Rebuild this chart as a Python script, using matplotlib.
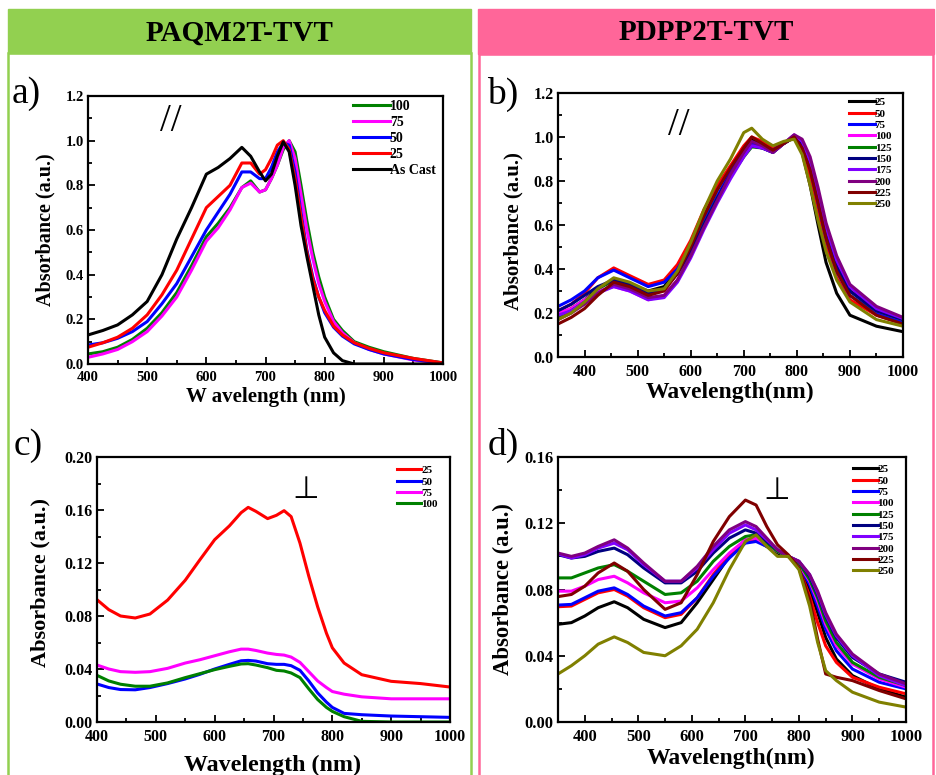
#!/usr/bin/env python3
"""uv-vis absorbance of PAQM2T-TVT / PDPP2T-TVT films, parallel and perpendicular polarisation."""

import matplotlib

matplotlib.use("Agg")
import matplotlib.pyplot as plt
from matplotlib.patches import Rectangle
from matplotlib.ticker import FormatStrFormatter, MultipleLocator

W, H = 936, 775

# ---- a) PAQM2T-TVT, parallel ----
A_WL = [400, 425, 450, 475, 500, 525, 550, 575, 600, 620, 640, 660, 675, 690, 700, 710,
        720, 730, 740, 750, 760, 770, 780, 790, 800, 815, 830, 850, 875, 900, 950, 1000]
A_LABELS = ["100", "75", "50", "25", "As Cast"]
A_COLORS = ["#008000", "#FF00FF", "#0000FF", "#FF0000", "#000000"]
A_100 = [0.045, 0.055, 0.075, 0.11, 0.16, 0.23, 0.32, 0.44, 0.57, 0.63, 0.70, 0.79, 0.82, 0.77, 0.78, 0.83,
         0.89, 0.96, 1.0, 0.95, 0.80, 0.64, 0.50, 0.39, 0.30, 0.20, 0.15, 0.10, 0.075, 0.055, 0.025, 0.005]
A_75 = [0.03, 0.045, 0.065, 0.10, 0.145, 0.215, 0.30, 0.42, 0.55, 0.61, 0.69, 0.79, 0.81, 0.77, 0.78, 0.83,
        0.89, 0.97, 1.0, 0.92, 0.76, 0.60, 0.47, 0.36, 0.28, 0.19, 0.14, 0.095, 0.065, 0.045, 0.018, 0.003]
A_50 = [0.085, 0.095, 0.115, 0.145, 0.19, 0.27, 0.36, 0.48, 0.60, 0.68, 0.76, 0.86, 0.86, 0.83, 0.83, 0.88,
        0.95, 0.99, 0.98, 0.86, 0.68, 0.51, 0.39, 0.30, 0.23, 0.165, 0.125, 0.09, 0.065, 0.045, 0.02, 0.004]
A_25 = [0.075, 0.095, 0.12, 0.16, 0.22, 0.31, 0.42, 0.56, 0.70, 0.75, 0.80, 0.90, 0.90, 0.85, 0.87, 0.92,
        0.98, 1.0, 0.96, 0.83, 0.66, 0.50, 0.38, 0.30, 0.24, 0.17, 0.13, 0.095, 0.07, 0.05, 0.025, 0.005]
A_CAST = [0.13, 0.15, 0.175, 0.22, 0.28, 0.40, 0.56, 0.70, 0.85, 0.88, 0.92, 0.97, 0.93, 0.86, 0.82, 0.85,
          0.93, 0.995, 0.95, 0.80, 0.62, 0.48, 0.35, 0.22, 0.12, 0.05, 0.015, 0.0, 0.0, 0.0, 0.0, 0.0]

# ---- b) PDPP2T-TVT, parallel ----
B_WL = [350, 375, 400, 425, 455, 485, 520, 550, 575, 600, 625, 650, 675, 700, 715, 735,
        755, 775, 795, 810, 825, 840, 855, 875, 900, 950, 1000]
TEMPS = ["25", "50", "75", "100", "125", "150", "175", "200", "225", "250"]
ORIGIN_COLORS = ["#000000", "#FF0000", "#0000FF", "#FF00FF", "#008000",
                 "#000080", "#8000FF", "#800080", "#800000", "#808000"]
B_25 = [0.19, 0.22, 0.26, 0.31, 0.35, 0.33, 0.30, 0.32, 0.40, 0.51, 0.64, 0.76, 0.86, 0.95, 0.99, 0.97,
        0.95, 0.97, 1.0, 0.93, 0.78, 0.60, 0.43, 0.29, 0.19, 0.14, 0.115]
B_50 = [0.21, 0.24, 0.29, 0.36, 0.405, 0.37, 0.33, 0.35, 0.42, 0.53, 0.67, 0.78, 0.87, 0.96, 1.0, 0.98,
        0.95, 0.97, 1.0, 0.94, 0.82, 0.66, 0.50, 0.36, 0.26, 0.19, 0.15]
B_75 = [0.23, 0.26, 0.30, 0.36, 0.395, 0.36, 0.32, 0.34, 0.40, 0.50, 0.62, 0.73, 0.84, 0.93, 0.97, 0.96,
        0.94, 0.97, 1.0, 0.96, 0.86, 0.70, 0.54, 0.39, 0.28, 0.20, 0.16]
B_100 = [0.20, 0.22, 0.26, 0.30, 0.32, 0.30, 0.26, 0.28, 0.35, 0.46, 0.59, 0.71, 0.82, 0.92, 0.96, 0.95,
         0.93, 0.97, 1.005, 0.97, 0.88, 0.73, 0.57, 0.42, 0.31, 0.21, 0.17]
B_125 = [0.18, 0.21, 0.25, 0.31, 0.35, 0.32, 0.29, 0.31, 0.38, 0.48, 0.60, 0.72, 0.82, 0.91, 0.955, 0.95,
         0.93, 0.97, 1.0, 0.96, 0.87, 0.72, 0.56, 0.41, 0.30, 0.21, 0.17]
B_150 = [0.21, 0.24, 0.28, 0.32, 0.35, 0.33, 0.29, 0.31, 0.38, 0.48, 0.60, 0.72, 0.83, 0.92, 0.96, 0.95,
         0.93, 0.97, 1.0, 0.96, 0.87, 0.72, 0.56, 0.41, 0.30, 0.21, 0.17]
B_175 = [0.19, 0.21, 0.25, 0.29, 0.32, 0.30, 0.26, 0.27, 0.34, 0.45, 0.58, 0.70, 0.81, 0.91, 0.96, 0.95,
         0.93, 0.97, 1.01, 0.98, 0.89, 0.75, 0.59, 0.44, 0.32, 0.22, 0.175]
B_200 = [0.17, 0.20, 0.24, 0.29, 0.33, 0.31, 0.27, 0.28, 0.35, 0.46, 0.59, 0.71, 0.83, 0.93, 0.98, 0.96,
         0.93, 0.97, 1.01, 0.99, 0.91, 0.77, 0.61, 0.46, 0.33, 0.23, 0.18]
B_225 = [0.15, 0.18, 0.22, 0.28, 0.34, 0.32, 0.28, 0.30, 0.38, 0.50, 0.64, 0.76, 0.86, 0.95, 1.0, 0.97,
         0.94, 0.97, 1.0, 0.95, 0.85, 0.70, 0.54, 0.39, 0.28, 0.19, 0.15]
B_250 = [0.17, 0.20, 0.25, 0.31, 0.36, 0.34, 0.30, 0.31, 0.39, 0.52, 0.67, 0.80, 0.90, 1.02, 1.04, 0.99,
         0.96, 0.98, 0.99, 0.92, 0.78, 0.62, 0.48, 0.35, 0.25, 0.17, 0.14]

# ---- c) PAQM2T-TVT, perpendicular ----
C_WL = [400, 420, 440, 465, 490, 520, 550, 575, 600, 625, 645, 657, 670, 690, 705, 718, 730,
        745, 760, 775, 790, 800, 820, 850, 900, 950, 1000]
C_LABELS = ["25", "50", "75", "100"]
C_COLORS = ["#FF0000", "#0000FF", "#FF00FF", "#008000"]
C_25 = [0.0923, 0.0848, 0.080, 0.0785, 0.0815, 0.092, 0.107, 0.1225, 0.1376, 0.148, 0.158, 0.162, 0.159,
        0.1535, 0.156, 0.1595, 0.155, 0.135, 0.11, 0.087, 0.067, 0.056, 0.0445, 0.0357, 0.0307, 0.029, 0.0264]
C_50 = [0.0287, 0.026, 0.0245, 0.0243, 0.026, 0.029, 0.0325, 0.036, 0.040, 0.0435, 0.0462, 0.0465, 0.046,
        0.044, 0.0435, 0.0435, 0.0425, 0.039, 0.031, 0.022, 0.015, 0.011, 0.0065, 0.0055, 0.0045, 0.004, 0.0035]
C_75 = [0.043, 0.040, 0.038, 0.0375, 0.038, 0.0405, 0.0445, 0.047, 0.050, 0.053, 0.055, 0.055, 0.054,
        0.052, 0.051, 0.0505, 0.049, 0.045, 0.038, 0.031, 0.026, 0.023, 0.021, 0.019, 0.0175, 0.0175, 0.0175]
C_100 = [0.0352, 0.031, 0.0285, 0.027, 0.027, 0.0295, 0.0335, 0.0365, 0.0395, 0.042, 0.0438, 0.044, 0.043,
         0.041, 0.039, 0.0385, 0.037, 0.0335, 0.025, 0.017, 0.011, 0.008, 0.004, 0.0005, 0.0, 0.0, 0.0]

# ---- d) PDPP2T-TVT, perpendicular ----
D_WL = [350, 375, 400, 425, 455, 480, 510, 550, 580, 610, 640, 670, 700, 720, 740, 760, 780,
        800, 820, 835, 850, 870, 900, 950, 1000]
D_25 = [0.059, 0.060, 0.064, 0.069, 0.0726, 0.069, 0.062, 0.057, 0.060, 0.072, 0.086, 0.100, 0.110, 0.110,
        0.106, 0.102, 0.100, 0.094, 0.080, 0.066, 0.051, 0.038, 0.028, 0.020, 0.015]
D_50 = [0.0696, 0.070, 0.074, 0.078, 0.080, 0.076, 0.069, 0.063, 0.065, 0.075, 0.089, 0.101, 0.109, 0.110,
        0.107, 0.103, 0.100, 0.093, 0.076, 0.060, 0.046, 0.036, 0.027, 0.021, 0.017]
D_75 = [0.0706, 0.071, 0.075, 0.079, 0.081, 0.077, 0.070, 0.064, 0.066, 0.075, 0.088, 0.099, 0.108, 0.109,
        0.106, 0.103, 0.100, 0.095, 0.083, 0.070, 0.056, 0.043, 0.032, 0.024, 0.020]
D_100 = [0.079, 0.079, 0.082, 0.086, 0.088, 0.084, 0.078, 0.072, 0.073, 0.081, 0.092, 0.102, 0.110, 0.111,
         0.107, 0.103, 0.100, 0.095, 0.085, 0.073, 0.059, 0.046, 0.035, 0.026, 0.021]
D_125 = [0.087, 0.087, 0.090, 0.093, 0.095, 0.091, 0.085, 0.077, 0.078, 0.085, 0.097, 0.106, 0.112, 0.113,
         0.108, 0.103, 0.100, 0.096, 0.086, 0.075, 0.061, 0.048, 0.036, 0.027, 0.022]
D_150 = [0.101, 0.099, 0.100, 0.103, 0.105, 0.101, 0.093, 0.084, 0.084, 0.091, 0.102, 0.111, 0.116, 0.114,
         0.109, 0.104, 0.100, 0.097, 0.088, 0.077, 0.064, 0.051, 0.039, 0.029, 0.024]
D_175 = [0.1015, 0.099, 0.101, 0.105, 0.108, 0.104, 0.095, 0.085, 0.085, 0.093, 0.104, 0.114, 0.119, 0.116,
         0.110, 0.104, 0.100, 0.097, 0.089, 0.078, 0.065, 0.052, 0.040, 0.028, 0.022]
D_200 = [0.102, 0.100, 0.102, 0.106, 0.110, 0.105, 0.096, 0.085, 0.085, 0.094, 0.106, 0.116, 0.121, 0.118,
         0.111, 0.104, 0.100, 0.097, 0.089, 0.079, 0.066, 0.053, 0.041, 0.029, 0.023]
D_225 = [0.0757, 0.077, 0.082, 0.090, 0.096, 0.091, 0.080, 0.068, 0.072, 0.089, 0.109, 0.124, 0.134, 0.131,
         0.118, 0.107, 0.101, 0.093, 0.074, 0.050, 0.029, 0.027, 0.025, 0.019, 0.014]
D_250 = [0.029, 0.034, 0.040, 0.047, 0.0514, 0.048, 0.042, 0.040, 0.046, 0.056, 0.072, 0.092, 0.109, 0.113,
         0.106, 0.100, 0.100, 0.092, 0.070, 0.048, 0.031, 0.025, 0.018, 0.012, 0.009]

GREEN = "#92D050"
PINK = "#FF6699"
LW = 2.2


def fx(px):
    return px / W


def fy(py):
    return 1 - py / H


def axes_box(fig, x0, y0, x1, y1):
    return fig.add_axes([fx(x0), fy(y1), fx(x1 - x0), (y1 - y0) / H])


def style_axes(ax, xlim, ylim, ystep, yminor, yfmt, tick_fs):
    ax.set_xlim(*xlim)
    ax.set_ylim(*ylim)
    ax.set_xticks(range(400, 1001, 100))
    ax.xaxis.set_minor_locator(MultipleLocator(50))
    ax.yaxis.set_major_locator(MultipleLocator(ystep))
    ax.yaxis.set_minor_locator(MultipleLocator(yminor))
    ax.yaxis.set_major_formatter(FormatStrFormatter(yfmt))
    ax.tick_params(which="both", direction="in", top=False, right=False, width=1.3)
    ax.tick_params(which="major", length=5, labelsize=tick_fs)
    ax.tick_params(axis="x", which="major", pad=5)
    ax.tick_params(axis="y", which="major", pad=3)
    ax.tick_params(which="minor", length=3)
    for s in ax.spines.values():
        s.set_linewidth(1.6)


def labels(ax, fs_y, fs_x, xlabel, ycoord, xcoord):
    ax.set_ylabel("Absorbance (a.u.)", fontsize=fs_y, va="center")
    ax.set_xlabel(xlabel, fontsize=fs_x, va="center")
    ax.yaxis.set_label_coords(*ycoord)
    ax.xaxis.set_label_coords(*xcoord)


def legend(ax, x0, y0, fs, hlen, spacing):
    ax.legend(loc="upper left", bbox_to_anchor=(x0, y0), frameon=False, fontsize=fs,
              handlelength=hlen, handletextpad=0.0, labelspacing=spacing,
              borderpad=0, borderaxespad=0)


def mark(ax, x, y, s, fs, family=None):
    # x, y in axes fraction
    ax.text(x, y, s, ha="center", va="center", fontsize=fs, fontweight="normal",
            family=family, transform=ax.transAxes)


def main() -> None:
    plt.rcParams.update({
        "font.family": ["Liberation Serif", "DejaVu Serif"],
        "font.weight": "bold",
        "axes.labelweight": "bold",
    })
    fig = plt.figure(figsize=(W / 100, H / 100), dpi=100)

    # header bands and frames
    fig.add_artist(Rectangle((fx(8), fy(H + 5)), fx(463), (H + 5 - 53) / H, transform=fig.transFigure,
                             fill=False, edgecolor=GREEN, lw=1.8))
    fig.add_artist(Rectangle((fx(8), fy(53)), fx(463), 44 / H, transform=fig.transFigure,
                             facecolor=GREEN, edgecolor=GREEN, lw=1))
    fig.add_artist(Rectangle((fx(479), fy(H + 5)), fx(454), (H + 5 - 54) / H, transform=fig.transFigure,
                             fill=False, edgecolor=PINK, lw=1.8))
    fig.add_artist(Rectangle((fx(478), fy(54)), fx(456), 45 / H, transform=fig.transFigure,
                             facecolor=PINK, edgecolor=PINK, lw=1))
    fig.text(fx(240), fy(33), "PAQM2T-TVT", ha="center", va="center", fontsize=21, fontweight="bold")
    fig.text(fx(706), fy(33), "PDPP2T-TVT", ha="center", va="center", fontsize=21, fontweight="bold")

    for letter, x, y in [("a)", 12, 94), ("b)", 487, 94), ("c)", 14, 446), ("d)", 488, 445)]:
        fig.text(fx(x), fy(y), letter, ha="left", va="center", fontsize=27, fontweight="normal")

    # a
    ax = axes_box(fig, 88, 96, 443, 364)
    for lab, col, ys in zip(A_LABELS, A_COLORS, [A_100, A_75, A_50, A_25, A_CAST]):
        ax.plot(A_WL, ys, color=col, lw=LW, label=lab)
    style_axes(ax, (400, 1000), (0, 1.2), 0.2, 0.1, "%.1f", 10.5)
    labels(ax, 14.5, 15, "W avelength (nm)", (-0.121, 0.5), (0.501, -0.123))
    legend(ax, 0.746, 0.985, 10, 2.66, 0.22)
    mark(ax, 0.234, 0.905, "//", 28)

    # b
    ax = axes_box(fig, 558, 93, 903, 357)
    for lab, col, ys in zip(TEMPS, ORIGIN_COLORS, [B_25, B_50, B_75, B_100, B_125, B_150,
                                                   B_175, B_200, B_225, B_250]):
        ax.plot(B_WL, ys, color=col, lw=LW, label=lab)
    style_axes(ax, (350, 1000), (0, 1.2), 0.2, 0.1, "%.1f", 11.5)
    labels(ax, 15, 17, "Wavelength(nm)", (-0.130, 0.477), (0.499, -0.133))
    legend(ax, 0.843, 0.983, 8, 2.34, 0.14)
    mark(ax, 0.351, 0.878, "//", 28)

    # c
    ax = axes_box(fig, 97, 457, 450, 722)
    for lab, col, ys in zip(C_LABELS, C_COLORS, [C_25, C_50, C_75, C_100]):
        ax.plot(C_WL, ys, color=col, lw=LW, label=lab)
    style_axes(ax, (400, 1000), (0, 0.2), 0.04, 0.02, "%.2f", 11.5)
    labels(ax, 16, 17.3, "Wavelength (nm)", (-0.161, 0.526), (0.497, -0.162))
    legend(ax, 0.850, 0.968, 8, 2.2, 0.14)
    mark(ax, (306 - 97) / 353, (722 - 489) / 265, "\u22a5", 22, "DejaVu Sans")

    # d
    ax = axes_box(fig, 558, 457, 906, 722)
    for lab, col, ys in zip(TEMPS, ORIGIN_COLORS, [D_25, D_50, D_75, D_100, D_125, D_150,
                                                   D_175, D_200, D_225, D_250]):
        ax.plot(D_WL, ys, color=col, lw=LW, label=lab)
    style_axes(ax, (350, 1000), (0, 0.16), 0.04, 0.02, "%.2f", 12)
    labels(ax, 16.3, 17, "Wavelength(nm)", (-0.158, 0.502), (0.497, -0.136))
    legend(ax, 0.848, 0.972, 8, 2.2, 0.14)
    mark(ax, (777 - 558) / 348, (722 - 490) / 265, "\u22a5", 22, "DejaVu Sans")

    fig.savefig("out.png", dpi=100)
    plt.close(fig)


if __name__ == "__main__":
    main()
